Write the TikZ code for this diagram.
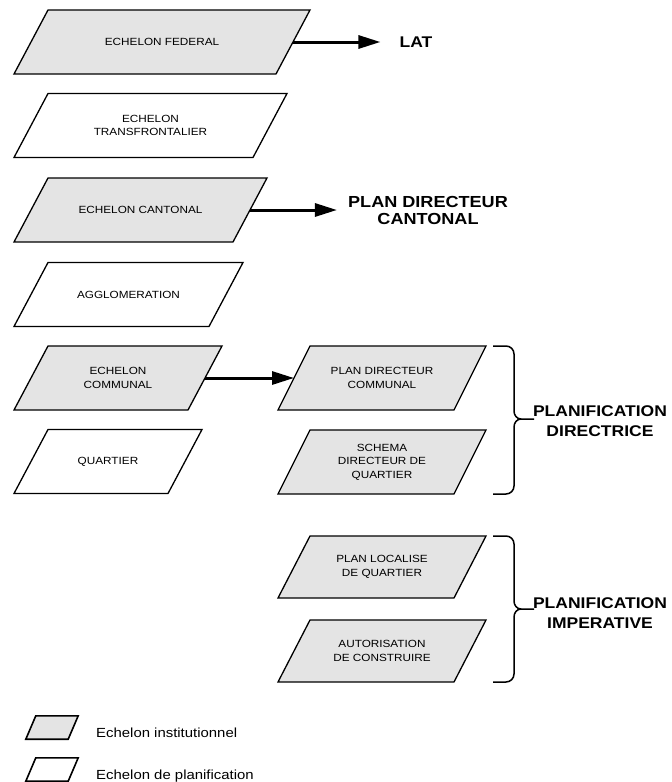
\documentclass[tikz,border=0pt]{standalone}
\usepackage{fontspec}
\setmainfont{Liberation Sans}[FakeStretch=1.13]
\usetikzlibrary{arrows.meta,backgrounds}
\definecolor{boxgray}{HTML}{E4E4E4}
\newcommand\plgm[3]{\draw[#3] ([xshift=#2]#1.north west) -- ([xshift=#2]#1.north east) -- ([xshift=-#2]#1.south east) -- ([xshift=-#2]#1.south west) -- cycle;}
\begin{document}
\begin{tikzpicture}[x=1pt,y=-1pt,
  box/.style={inner sep=0pt, outer sep=0pt, minimum height=64pt, align=center, font=\fontsize{10.4}{13.6}\selectfont},
  inst/.style={fill=boxgray, draw=black, line width=1.3pt, line join=miter},
  planst/.style={fill=white, draw=black, line width=1.3pt, line join=miter},
  bigarrow/.style={line width=3pt, -{Triangle[length=22pt,width=13pt]}},
  lbl/.style={font=\fontsize{15.5}{20}\selectfont\bfseries, align=center, inner sep=0pt},
  legtext/.style={font=\fontsize{13.2}{15}\selectfont, inner sep=0pt, anchor=base west},
  bracepath/.style={line width=1.5pt, line join=round}]
\useasboundingbox (0,0) rectangle (672,782);

% left column
\node[box, minimum width=262pt] (fed) at (162,42) {ECHELON FEDERAL};
\node[box, minimum width=239pt] (tra) at (150.5,125.5) {ECHELON\\TRANSFRONTALIER};
\node[box, minimum width=219pt] (can) at (140.5,210) {ECHELON CANTONAL};
\node[box, minimum width=195pt] (agg) at (128.5,294.5) {AGGLOMERATION};
\node[box, minimum width=174pt] (com) at (118,378) {ECHELON\\COMMUNAL};
\node[box, minimum width=154pt] (qua) at (108,461.5) {QUARTIER};

% right column
\node[box, minimum width=176pt] (pdc) at (382,378) {PLAN DIRECTEUR\\COMMUNAL};
\node[box, minimum width=176pt] (sdq) at (382,462) {SCHEMA\\DIRECTEUR DE\\QUARTIER};
\node[box, minimum width=176pt, minimum height=62pt] (plq) at (382,567) {PLAN LOCALISE\\DE QUARTIER};
\node[box, minimum width=176pt, minimum height=62pt] (aut) at (382,651) {AUTORISATION\\DE CONSTRUIRE};

% legend
\node[inner sep=0pt, minimum width=42pt, minimum height=23pt] (lg1) at (52,727.5) {};
\node[inner sep=0pt, minimum width=42pt, minimum height=23pt] (lg2) at (52,769.5) {};
\node[legtext] (lt1) at (96,737) {Echelon institutionnel};
\node[legtext] (lt2) at (96,779) {Echelon de planification};

\begin{scope}[on background layer]
\plgm{fed}{17pt}{inst}
\plgm{tra}{17pt}{planst}
\plgm{can}{17pt}{inst}
\plgm{agg}{17pt}{planst}
\plgm{com}{17pt}{inst}
\plgm{qua}{17pt}{planst}
\plgm{pdc}{16pt}{inst}
\plgm{sdq}{16pt}{inst}
\plgm{plq}{16pt}{inst}
\plgm{aut}{16pt}{inst}
\plgm{lg1}{5pt}{inst, line width=1.6pt}
\plgm{lg2}{5pt}{planst, line width=1.6pt}
\end{scope}

% right labels
\node[lbl] (lat) at (416,42) {LAT};
\node[lbl, font=\fontsize{16}{17}\selectfont\bfseries] (pdcant) at (428,210) {PLAN DIRECTEUR\\CANTONAL};
\node[lbl] (dir) at (600,421.5) {PLANIFICATION\\DIRECTRICE};
\node[lbl] (imp) at (600,613.5) {PLANIFICATION\\IMPERATIVE};

% arrows
\draw[bigarrow, shorten >=19pt] (fed.east) -- (lat.west);
\draw[bigarrow] (can.east) -- ([xshift=-11pt]pdcant.west |- can.east);
\draw[bigarrow] (com.east) -- (pdc.west);

% braces
\draw[bracepath] (493,346) -- (506,346) to[out=0,in=90] (514,354) -- (514,411) to[out=-90,in=180] (521,419) -- (534,419);
\draw[bracepath] (521,419) to[out=180,in=90] (514,427) -- (514,486) to[out=-90,in=0] (506,494) -- (493,494);
\draw[bracepath] (493,536) -- (506,536) to[out=0,in=90] (514,544) -- (514,601) to[out=-90,in=180] (521,609) -- (534,609);
\draw[bracepath] (521,609) to[out=180,in=90] (514,617) -- (514,674) to[out=-90,in=0] (506,682) -- (493,682);
\end{tikzpicture}
\end{document}
